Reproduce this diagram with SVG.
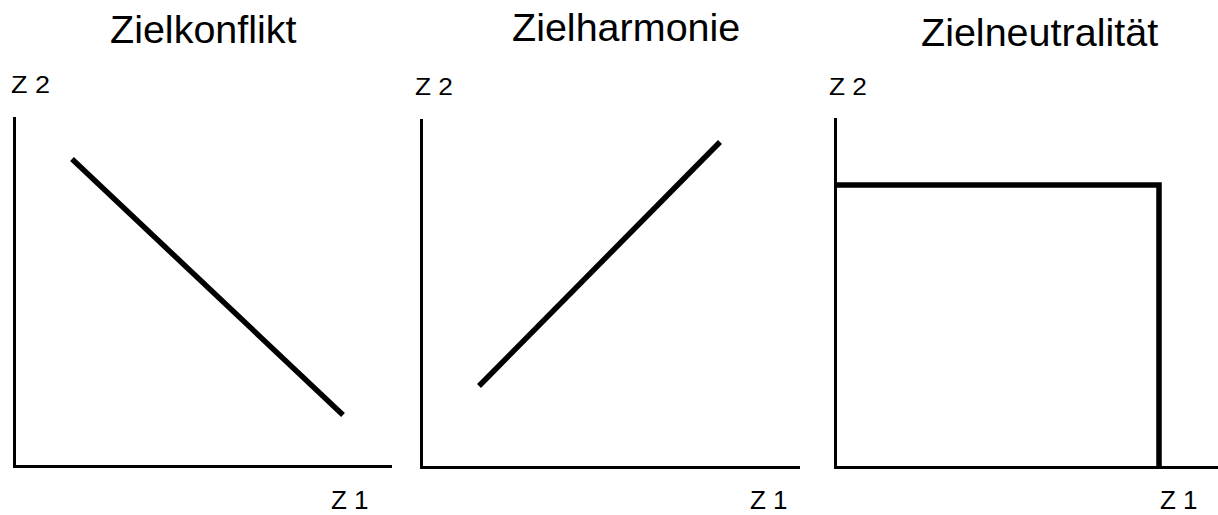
<svg xmlns="http://www.w3.org/2000/svg" width="1218" height="515" viewBox="0 0 1218 515">
<style>
.title{font-family:"Liberation Sans",Arial,sans-serif;font-size:39.5px;fill:#000}
.lab{font-family:"Liberation Sans",Arial,sans-serif;font-size:23.5px;fill:#000}
.lab1{font-family:"Liberation Sans",Arial,sans-serif;font-size:26px;fill:#000}
.axis{fill:none;stroke:#000;stroke-width:3}
.curve{fill:none;stroke:#000;stroke-width:5.5}
</style>
<rect width="1218" height="515" fill="#fff"/>
<g id="panel-konflikt">
<text class="title" x="110" y="43">Zielkonflikt</text>
<text class="lab" x="11" y="93" textLength="39" lengthAdjust="spacingAndGlyphs">Z 2</text>
<text class="lab1" x="331" y="509">Z 1</text>
<path class="axis" d="M14.5 117 V466.5 H392"/>
<line class="curve" x1="72" y1="159" x2="343" y2="415"/>
</g>
<g id="panel-harmonie">
<text class="title" x="512" y="41">Zielharmonie</text>
<text class="lab" x="415" y="95" textLength="38" lengthAdjust="spacingAndGlyphs">Z 2</text>
<text class="lab1" x="750" y="509">Z 1</text>
<path class="axis" d="M421.5 119 V467.5 H800"/>
<line class="curve" x1="479" y1="386" x2="720" y2="142"/>
</g>
<g id="panel-neutralitaet">
<text class="title" x="921" y="46">Zielneutralität</text>
<text class="lab" x="829" y="95" textLength="38" lengthAdjust="spacingAndGlyphs">Z 2</text>
<text class="lab1" x="1160" y="509">Z 1</text>
<path class="axis" d="M835.5 118 V467.5 H1218"/>
<path class="curve" d="M836 185 H1159 V467"/>
</g>
</svg>
